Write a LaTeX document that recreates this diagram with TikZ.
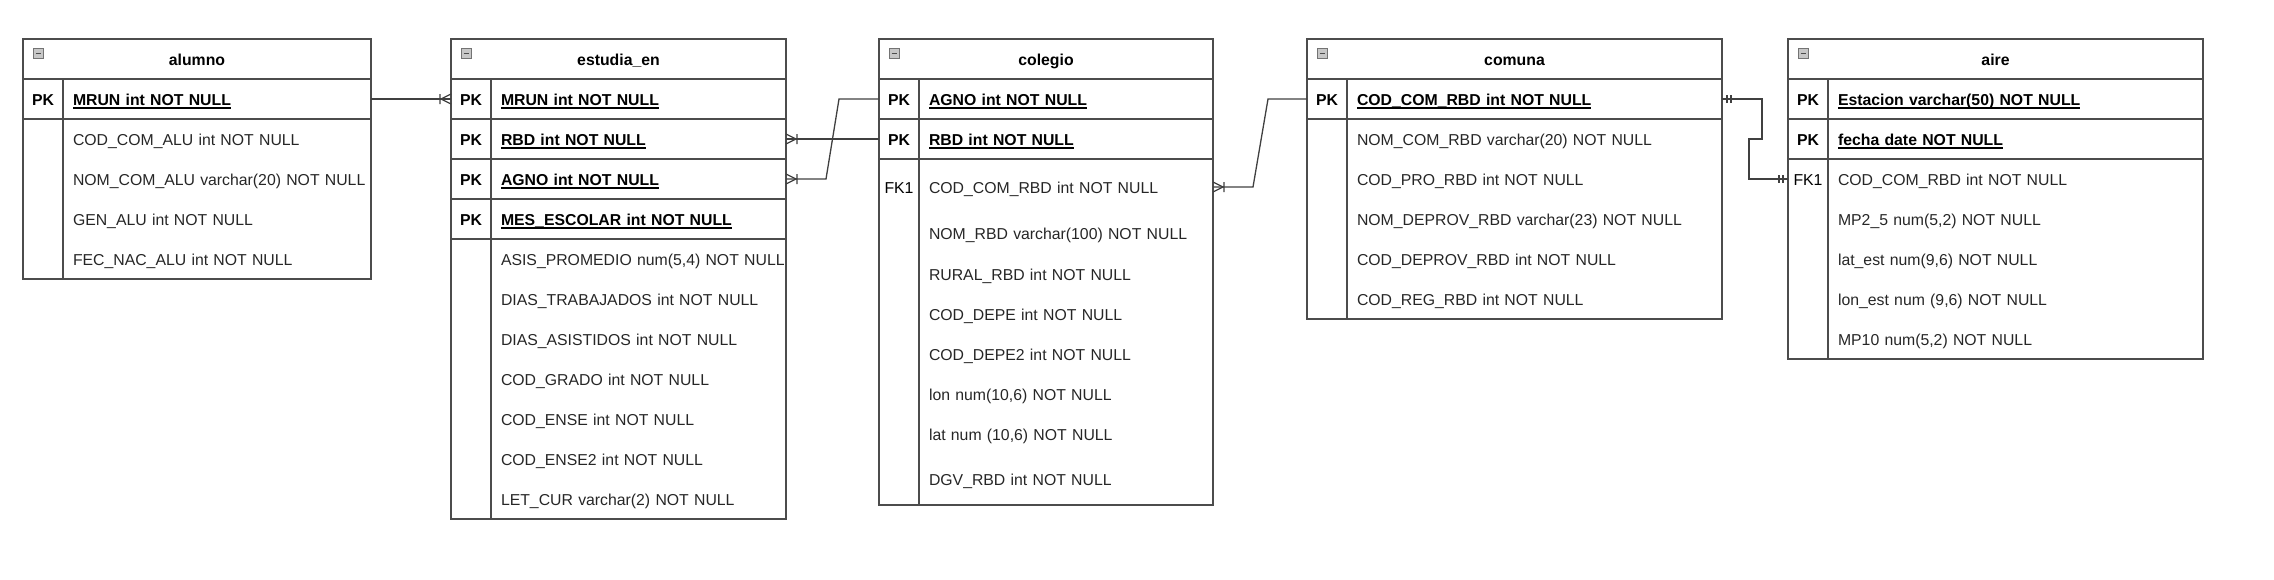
\documentclass[tikz,border=0pt]{standalone}
\usepackage{fontspec}
\setmainfont{Liberation Sans}
\usetikzlibrary{positioning}
\newcommand{\keyul}[1]{\setbox0\hbox{#1}\rlap{\rule[-3.5pt]{\wd0}{1.4pt}}\box0}
\tikzset{%
  tabline/.style = {draw=black!70, line width=1.3pt},
  tabhead/.style = {rectangle, tabline, minimum width=#1, minimum height=40pt,
        inner sep=0pt, outer sep=0pt, text height=12pt, text depth=0pt,
        font=\bfseries},
  keycell/.style = {rectangle, tabline, minimum width=40pt, minimum height=40pt,
        inner sep=0pt, outer sep=0pt, text height=12pt, text depth=0pt,
        font=\bfseries},
  fkcell/.style = {rectangle, minimum width=40pt, minimum height=40pt,
        inner sep=0pt, outer sep=0pt, text height=12pt, text depth=0pt},
  pkcell/.style = {rectangle, tabline, minimum height=40pt, text width=#1,
        inner xsep=10pt, inner ysep=0pt, outer sep=0pt, align=left,
        text height=12pt, text depth=0pt, font=\bfseries},
  attcell/.style = {rectangle, minimum height=40pt, text width=#1,
        inner xsep=10pt, inner ysep=0pt, outer sep=0pt, align=left,
        text height=12pt, text depth=0pt, text=black!85},
  collapsebox/.style = {rectangle, draw=black!55, fill=black!22, line width=0.8pt,
        minimum size=10pt, inner sep=0pt,
        path picture={\draw[black!70, line width=1pt]
          ([xshift=2.5pt]path picture bounding box.west) --
          ([xshift=-2.5pt]path picture bounding box.east);}},
  relline/.style = {draw=black!75, line width=1.3pt},
  crow/.pic = {\draw[relline] (0,5) -- (10,0) -- (0,-5) (11,5) -- (11,-5);},
  bars/.pic = {\draw[relline] (5,4) -- (5,-4) (9,4) -- (9,-4);}
}
\begin{document}
\fontsize{15.8}{19}\selectfont
\begin{tikzpicture}[x=1pt, y=-1pt]
\useasboundingbox (0,0) rectangle (2274,579);

% alumno
\node[tabhead=348pt] (alumno) at (197,59) {alumno};
\node[collapsebox] (alumno-icon) at ([xshift=15pt,yshift=-14pt]alumno.north west) {};
\node[keycell, below right=0pt and 0pt of alumno.south west] (alumno-k1) {PK};
\node[pkcell=288pt, right=0pt of alumno-k1] (alumno-mrun) {\keyul{MRUN int NOT NULL}};
\node[attcell=288pt, below=0pt of alumno-mrun] (alumno-com) {COD\_COM\_ALU int NOT NULL};
\node[attcell=288pt, below=0pt of alumno-com] (alumno-nom) {\mbox{NOM\_COM\_ALU varchar(20) NOT NULL}};
\node[attcell=288pt, below=0pt of alumno-nom] (alumno-gen) {GEN\_ALU int NOT NULL};
\node[attcell=288pt, below=0pt of alumno-gen] (alumno-fec) {FEC\_NAC\_ALU int NOT NULL};
\draw[tabline] (alumno-k1.south west) rectangle (alumno-fec.south east);
\draw[tabline] (alumno-mrun.south west) -- (alumno-fec.south west);

% estudia_en
\node[tabhead=335pt] (estudia) at (618.5,59) {estudia\_en};
\node[collapsebox] (estudia-icon) at ([xshift=15pt,yshift=-14pt]estudia.north west) {};
\node[keycell, below right=0pt and 0pt of estudia.south west] (estudia-k1) {PK};
\node[pkcell=275pt, right=0pt of estudia-k1] (estudia-mrun) {\keyul{MRUN int NOT NULL}};
\node[keycell, below=0pt of estudia-k1] (estudia-k2) {PK};
\node[pkcell=275pt, right=0pt of estudia-k2] (estudia-rbd) {\keyul{RBD int NOT NULL}};
\node[keycell, below=0pt of estudia-k2] (estudia-k3) {PK};
\node[pkcell=275pt, right=0pt of estudia-k3] (estudia-agno) {\keyul{AGNO int NOT NULL}};
\node[keycell, below=0pt of estudia-k3] (estudia-k4) {PK};
\node[pkcell=275pt, right=0pt of estudia-k4] (estudia-mes) {\keyul{MES\_ESCOLAR int NOT NULL}};
\node[attcell=275pt, below=0pt of estudia-mes] (estudia-asis) {\mbox{ASIS\_PROMEDIO num(5,4) NOT NULL}};
\node[attcell=275pt, below=0pt of estudia-asis] (estudia-trab) {DIAS\_TRABAJADOS int NOT NULL};
\node[attcell=275pt, below=0pt of estudia-trab] (estudia-asist) {DIAS\_ASISTIDOS int NOT NULL};
\node[attcell=275pt, below=0pt of estudia-asist] (estudia-grado) {COD\_GRADO int NOT NULL};
\node[attcell=275pt, below=0pt of estudia-grado] (estudia-ense) {COD\_ENSE int NOT NULL};
\node[attcell=275pt, below=0pt of estudia-ense] (estudia-ense2) {COD\_ENSE2 int NOT NULL};
\node[attcell=275pt, below=0pt of estudia-ense2] (estudia-let) {LET\_CUR varchar(2) NOT NULL};
\draw[tabline] (estudia-k4.south west) rectangle (estudia-let.south east);
\draw[tabline] (estudia-mes.south west) -- (estudia-let.south west);

% colegio
\node[tabhead=334pt] (colegio) at (1046,59) {colegio};
\node[collapsebox] (colegio-icon) at ([xshift=15pt,yshift=-14pt]colegio.north west) {};
\node[keycell, below right=0pt and 0pt of colegio.south west] (colegio-k1) {PK};
\node[pkcell=274pt, right=0pt of colegio-k1] (colegio-agno) {\keyul{AGNO int NOT NULL}};
\node[keycell, below=0pt of colegio-k1] (colegio-k2) {PK};
\node[pkcell=274pt, right=0pt of colegio-k2] (colegio-rbd) {\keyul{RBD int NOT NULL}};
\node[attcell=274pt, below=8pt of colegio-rbd] (colegio-com) {COD\_COM\_RBD int NOT NULL};
\node[fkcell, left=0pt of colegio-com] (colegio-k3) {FK1};
\node[attcell=274pt, below=6pt of colegio-com] (colegio-nom) {NOM\_RBD varchar(100) NOT NULL};
\node[attcell=274pt, below=1pt of colegio-nom] (colegio-rural) {RURAL\_RBD int NOT NULL};
\node[attcell=274pt, below=0pt of colegio-rural] (colegio-depe) {COD\_DEPE int NOT NULL};
\node[attcell=274pt, below=0pt of colegio-depe] (colegio-depe2) {COD\_DEPE2 int NOT NULL};
\node[attcell=274pt, below=0pt of colegio-depe2] (colegio-lon) {lon num(10,6) NOT NULL};
\node[attcell=274pt, below=0pt of colegio-lon] (colegio-lat) {lat num (10,6) NOT NULL};
\node[attcell=274pt, below=5pt of colegio-lat] (colegio-dgv) {DGV\_RBD int NOT NULL};
\draw[tabline] (colegio-k2.south west) rectangle ([yshift=-6pt]colegio-dgv.south east);
\draw[tabline] (colegio-rbd.south west) -- ([yshift=-6pt]colegio-dgv.south west);

% comuna
\node[tabhead=415pt] (comuna) at (1514.5,59) {comuna};
\node[collapsebox] (comuna-icon) at ([xshift=15pt,yshift=-14pt]comuna.north west) {};
\node[keycell, below right=0pt and 0pt of comuna.south west] (comuna-k1) {PK};
\node[pkcell=355pt, right=0pt of comuna-k1] (comuna-cod) {\keyul{COD\_COM\_RBD int NOT NULL}};
\node[attcell=355pt, below=0pt of comuna-cod] (comuna-nom) {NOM\_COM\_RBD varchar(20) NOT NULL};
\node[attcell=355pt, below=0pt of comuna-nom] (comuna-pro) {COD\_PRO\_RBD int NOT NULL};
\node[attcell=355pt, below=0pt of comuna-pro] (comuna-dnom) {NOM\_DEPROV\_RBD varchar(23) NOT NULL};
\node[attcell=355pt, below=0pt of comuna-dnom] (comuna-dcod) {COD\_DEPROV\_RBD int NOT NULL};
\node[attcell=355pt, below=0pt of comuna-dcod] (comuna-reg) {COD\_REG\_RBD int NOT NULL};
\draw[tabline] (comuna-k1.south west) rectangle (comuna-reg.south east);
\draw[tabline] (comuna-cod.south west) -- (comuna-reg.south west);

% aire
\node[tabhead=415pt] (aire) at (1995.5,59) {aire};
\node[collapsebox] (aire-icon) at ([xshift=15pt,yshift=-14pt]aire.north west) {};
\node[keycell, below right=0pt and 0pt of aire.south west] (aire-k1) {PK};
\node[pkcell=355pt, right=0pt of aire-k1] (aire-est) {\keyul{Estacion varchar(50) NOT NULL}};
\node[keycell, below=0pt of aire-k1] (aire-k2) {PK};
\node[pkcell=355pt, right=0pt of aire-k2] (aire-fecha) {\keyul{fecha date NOT NULL}};
\node[attcell=355pt, below=0pt of aire-fecha] (aire-com) {COD\_COM\_RBD int NOT NULL};
\node[fkcell, left=0pt of aire-com] (aire-k3) {FK1};
\node[attcell=355pt, below=0pt of aire-com] (aire-mp25) {MP2\_5 num(5,2) NOT NULL};
\node[attcell=355pt, below=0pt of aire-mp25] (aire-lat) {lat\_est num(9,6) NOT NULL};
\node[attcell=355pt, below=0pt of aire-lat] (aire-lon) {lon\_est num (9,6) NOT NULL};
\node[attcell=355pt, below=0pt of aire-lon] (aire-mp10) {MP10 num(5,2) NOT NULL};
\draw[tabline] (aire-k2.south west) rectangle (aire-mp10.south east);
\draw[tabline] (aire-fecha.south west) -- (aire-mp10.south west);

% relaciones
\draw[relline] (alumno-mrun.east) -- (estudia-k1.west);
\pic[rotate=180] at (estudia-k1.west) {crow};
\draw[relline] (estudia-rbd.east) -- (colegio-k2.west);
\pic at (estudia-rbd.east) {crow};
\draw[relline] (estudia-agno.east) -- ++(40,0) -- ([xshift=-40pt]colegio-k1.west) -- (colegio-k1.west);
\pic at (estudia-agno.east) {crow};
\draw[relline] (colegio-com.east) -- ++(40,0) -- ([xshift=-39pt]comuna-k1.west) -- (comuna-k1.west);
\pic at (colegio-com.east) {crow};
\draw[relline] (comuna-cod.east) -- ++(40,0) -- ++(0,40) -- ++(-13,0) -- ++(0,40) -- (aire-k3.west);
\pic at (comuna-cod.east) {bars};
\pic[rotate=180] at (aire-k3.west) {bars};
\end{tikzpicture}
\end{document}
